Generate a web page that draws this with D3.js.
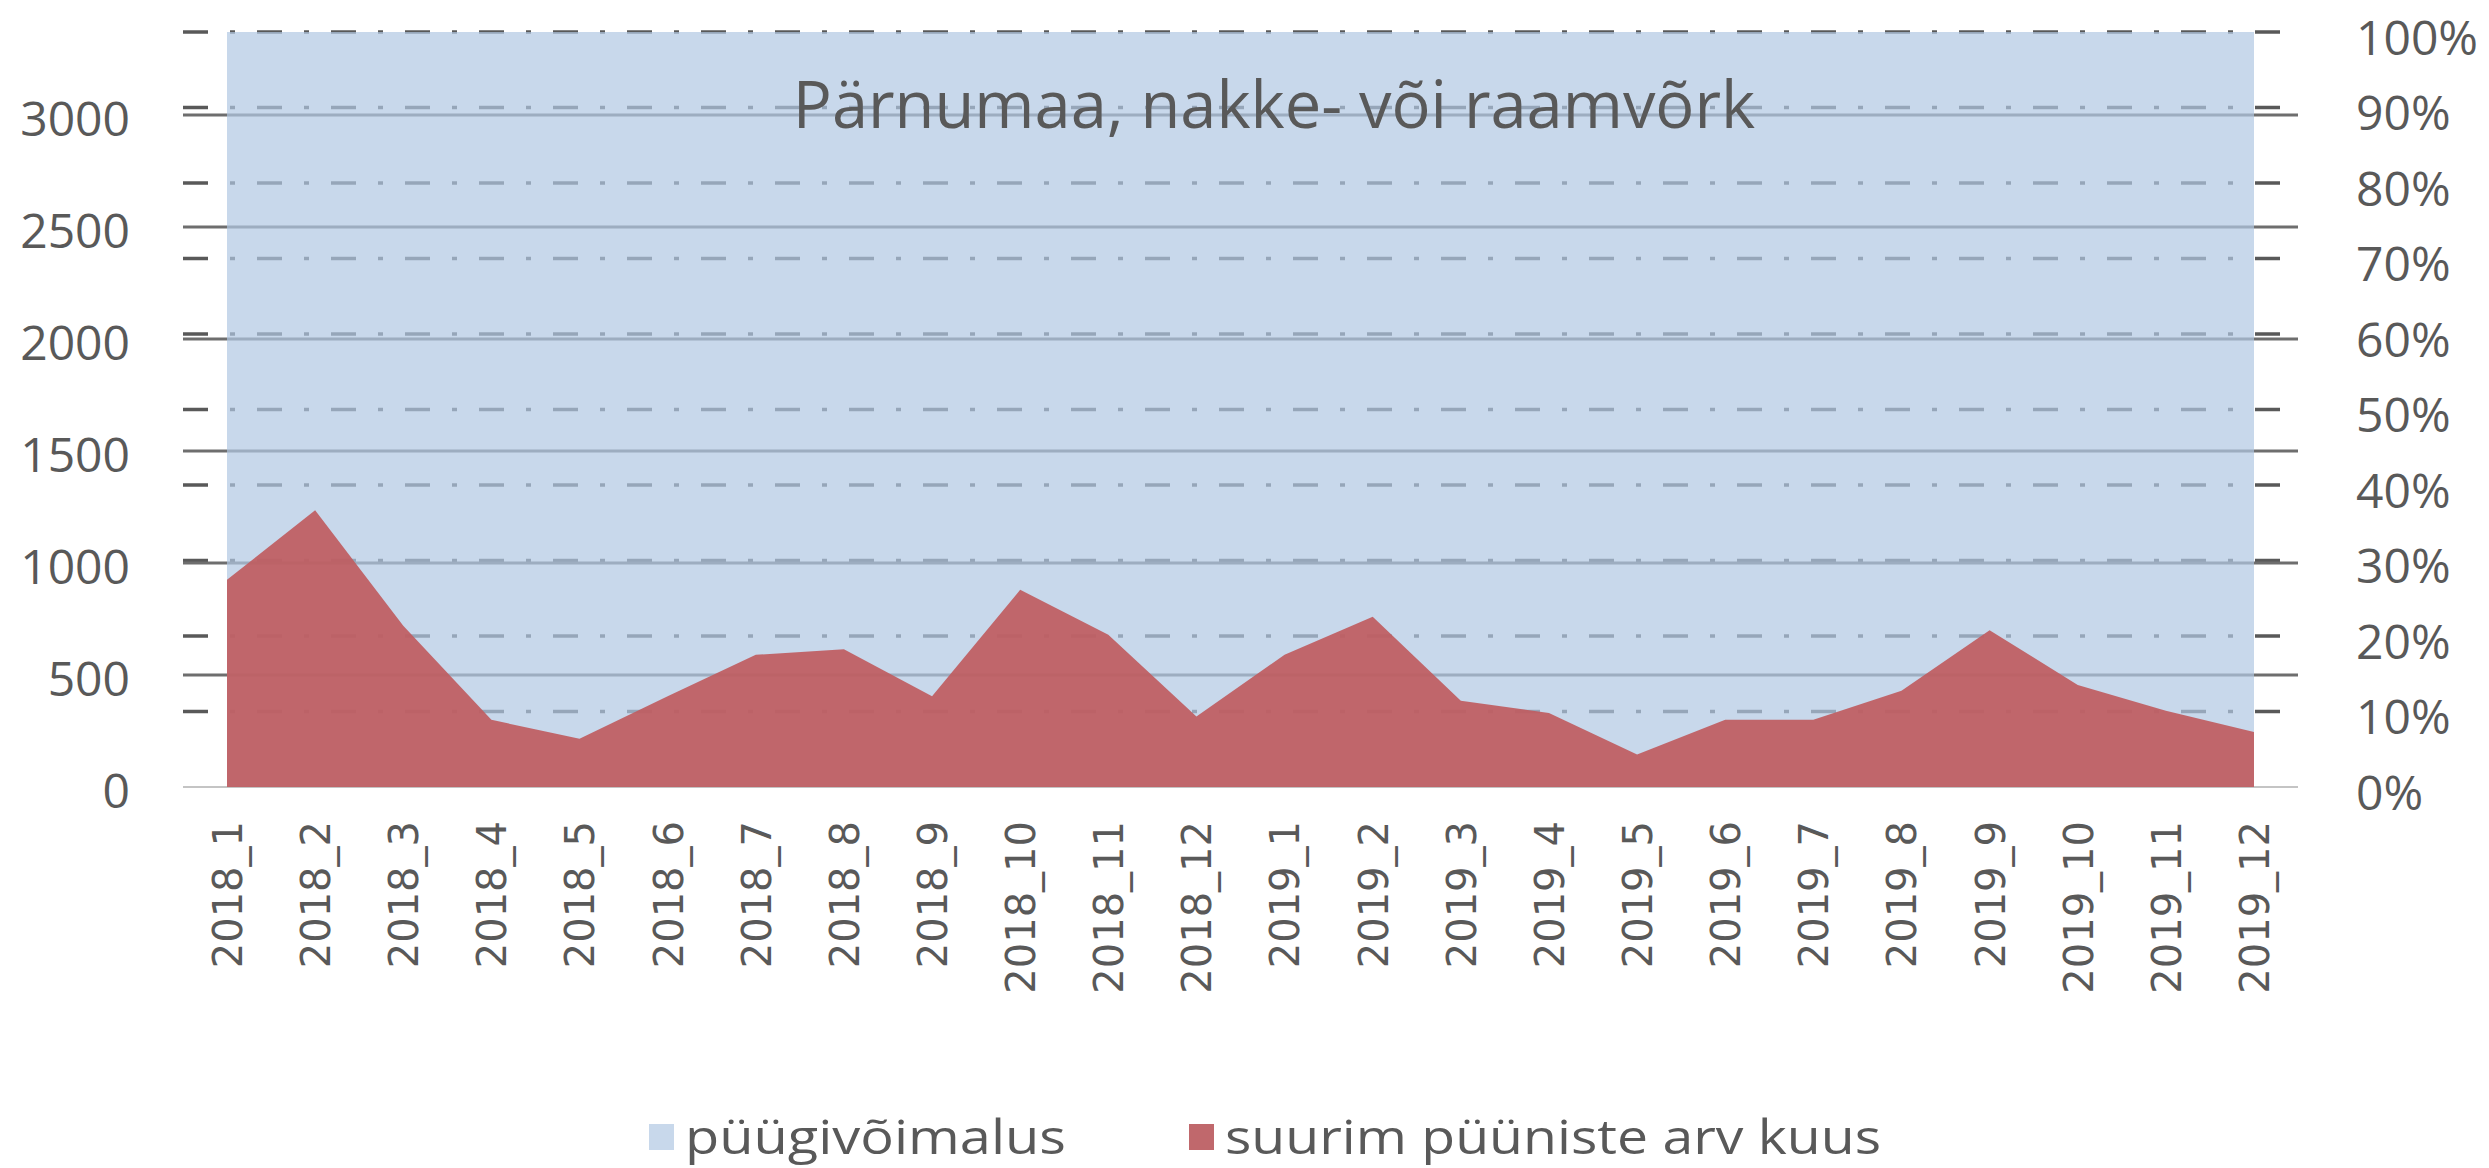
<!DOCTYPE html>
<html>
<head>
<meta charset="utf-8">
<title>Pärnumaa, nakke- või raamvõrk</title>
<script src="https://cdn.jsdelivr.net/npm/d3@7"></script>
<style>
  body { margin: 0; background: #fff; }
  text { fill: #595959; font-family: "Open Sans", sans-serif; }
</style>
</head>
<body>
<svg id="chart" width="2489" height="1168"></svg>
<script>
// chart data
const title = "Pärnumaa, nakke- või raamvõrk";
const months = ["2018_1", "2018_2", "2018_3", "2018_4", "2018_5", "2018_6",
  "2018_7", "2018_8", "2018_9", "2018_10", "2018_11", "2018_12",
  "2019_1", "2019_2", "2019_3", "2019_4", "2019_5", "2019_6",
  "2019_7", "2019_8", "2019_9", "2019_10", "2019_11", "2019_12"];
// suurim püüniste arv kuus (left axis)
const trapsMax = [925, 1235, 720, 300, 215, 405, 590, 615, 405, 880, 680, 315,
  590, 760, 385, 330, 145, 300, 300, 430, 700, 455, 340, 245];
// püügivõimalus, share of the limit (right axis)
const opportunity = [1, 1, 1, 1, 1, 1, 1, 1, 1, 1, 1, 1,
  1, 1, 1, 1, 1, 1, 1, 1, 1, 1, 1, 1];
const leftMax = 3370;
const leftTicks = [0, 500, 1000, 1500, 2000, 2500, 3000];
const rightTicks = [0, 0.1, 0.2, 0.3, 0.4, 0.5, 0.6, 0.7, 0.8, 0.9, 1];
const seriesNames = ["püügivõimalus", "suurim püüniste arv kuus"];
const seriesColours = ["#c8d8eb", "#c0686c"];

const svg = d3.select("#chart");
const plot = { left: 227, right: 2254, top: 32, bottom: 787 };
const gridLeft = 183, gridRight = 2298;

// scales
const x = d3.scalePoint().domain(months).range([plot.left, plot.right]);
const yLeft = d3.scaleLinear().domain([0, leftMax]).range([plot.bottom, plot.top]);
const yRight = d3.scaleLinear().domain([0, 1]).range([plot.bottom, plot.top]);

// gridlines (drawn under the areas, run a little past the plot)
svg.append("g")
  .selectAll("line")
    .data(rightTicks.filter(d => d > 0))
  .enter().append("line")
    .attr("x1", gridLeft).attr("x2", gridRight)
    .attr("y1", d => yRight(d)).attr("y2", d => yRight(d))
    .attr("stroke", "#595959")
    .attr("stroke-width", 3.5)
    .attr("stroke-dasharray", "25,22,5,22");
svg.append("g")
  .selectAll("line")
    .data(leftTicks.filter(d => d > 0))
  .enter().append("line")
    .attr("x1", gridLeft).attr("x2", gridRight)
    .attr("y1", d => yLeft(d)).attr("y2", d => yLeft(d))
    .attr("stroke", "#6e6e6e")
    .attr("stroke-width", 3);
svg.append("line")
  .attr("x1", gridLeft).attr("x2", gridRight)
  .attr("y1", yLeft(0)).attr("y2", yLeft(0))
  .attr("stroke", "#c4c4c4")
  .attr("stroke-width", 2);

// areas
const blueArea = d3.area()
  .x((d, i) => x(months[i]))
  .y0(yRight(0))
  .y1(d => yRight(d));
const redArea = d3.area()
  .x((d, i) => x(months[i]))
  .y0(yLeft(0))
  .y1(d => yLeft(d));
svg.append("path")
  .datum(opportunity)
  .attr("d", blueArea)
  .attr("fill", "#b0c7e2")
  .attr("fill-opacity", 0.7);
svg.append("path")
  .datum(trapsMax)
  .attr("d", redArea)
  .attr("fill", "#bf5c5f")
  .attr("fill-opacity", 0.92);

// left axis
const leftAxis = svg.append("g")
  .attr("transform", "translate(130,5)")
  .call(d3.axisLeft(yLeft).tickValues(leftTicks).tickSize(0).tickPadding(0)
    .tickFormat(d3.format("d")));
// right axis
const rightAxis = svg.append("g")
  .attr("transform", "translate(2356,7)")
  .call(d3.axisRight(yRight).tickValues(rightTicks).tickSize(0).tickPadding(0)
    .tickFormat(d3.format(".0%")));
[leftAxis, rightAxis].forEach(function(g) {
  g.select(".domain").remove();
  g.selectAll("text")
    .attr("fill", null)
    .style("font-family", "'Open Sans', sans-serif")
    .style("font-size", "48px");
});

// x axis, labels turned upright
const xAxis = svg.append("g")
  .attr("transform", "translate(0," + (plot.bottom + 34) + ")")
  .call(d3.axisBottom(x).tickSize(0).tickPadding(0));
xAxis.select(".domain").remove();
xAxis.selectAll("text")
  .attr("fill", null)
  .attr("transform", "rotate(-90)")
  .attr("text-anchor", "end")
  .attr("x", 0)
  .attr("y", 0)
  .attr("dy", "0.36em")
  .style("font-family", "'DejaVu Sans', sans-serif")
  .style("font-size", "40px");

// title
svg.append("text")
  .attr("x", 1274)
  .attr("y", 128)
  .attr("text-anchor", "middle")
  .style("font-size", "65px")
  .text(title);

// legend
const legendX = [649, 1189];
const legendW = [381, 656];
const legend = svg.append("g")
  .selectAll("g")
    .data(seriesNames)
  .enter().append("g")
    .attr("transform", (d, i) => "translate(" + legendX[i] + ",1124)");
legend.append("rect")
  .attr("width", 25)
  .attr("height", 26)
  .attr("fill", (d, i) => seriesColours[i]);
legend.append("text")
  .attr("x", 36)
  .attr("y", 30)
  .attr("textLength", (d, i) => legendW[i])
  .attr("lengthAdjust", "spacingAndGlyphs")
  .style("font-size", "48px")
  .text(d => d);
</script>
</body>
</html>
